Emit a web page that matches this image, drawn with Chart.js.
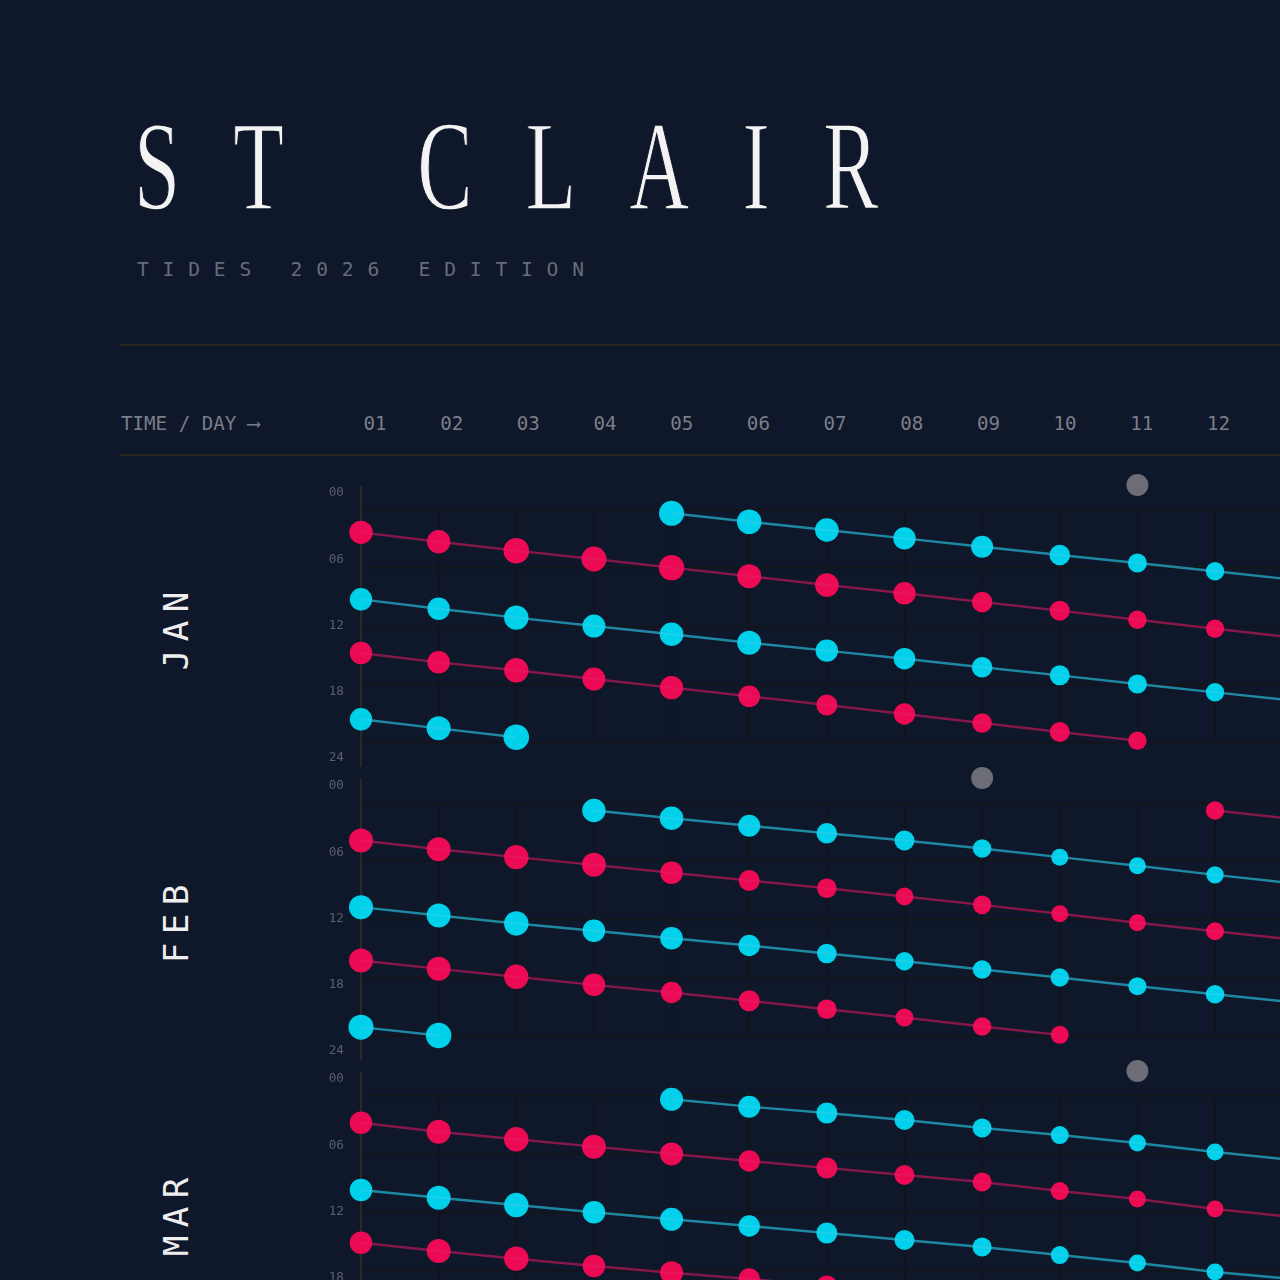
<!DOCTYPE html>
<html>
<head>
<meta charset="utf-8">
<script src="https://cdn.jsdelivr.net/npm/chart.js@4.4.1/dist/chart.umd.min.js"></script>
<style>
  html, body { margin: 0; padding: 0; background: #0f172a; }
  body { width: 1280px; height: 1280px; overflow: hidden; position: relative; }
  .abs { position: absolute; white-space: pre; margin: 0; }
  .rule { position: absolute; left: 120px; width: 1160px; height: 2px; background: #2a2723; }
  canvas { position: absolute; left: 0; }
</style>
</head>
<body>
<div id="title" class="abs">ST CLAIR</div>
<div id="subtitle" class="abs">TIDES 2026 EDITION</div>
<div class="rule" style="top:344px"></div>
<div id="axisTitle" class="abs">TIME / DAY ⟶</div>
<div class="rule" style="top:454px"></div>
<script>
// ---------------- DATA ----------------
const DAY_LABELS = ['01','02','03','04','05','06','07','08','09','10','11','12'];
const DAYS = [1,2,3,4,5,6,7,8,9,10,11,12,13];
const MONTHS = ['JAN','FEB','MAR'];
const HOUR_TICKS = [0,6,12,18,24];
const MOON_DAY = [11, 9, 11];           // last-quarter moon marker per month

// times (hours) of each tide chain, one value per day (null = no tide that day); R = dot radius
const JAN_HIGH_A_H = [null,null,null,null,0.34,1.21,2.06,2.92,3.78,4.64,5.46,6.31,7.17];
const JAN_HIGH_A_R = [null,null,null,null,12.5,12.3,11.8,11.2,11.0,10.3,9.5,9.2,8.8];
const JAN_LOW_A_H  = [2.30,3.27,4.19,5.05,5.94,6.83,7.73,8.58,9.48,10.37,11.30,12.23,13.13];
const JAN_LOW_A_R  = [11.7,11.7,12.8,12.5,12.7,12.0,11.8,11.2,10.3,10.0,9.3,9.2,8.8];
const JAN_HIGH_B_H = [9.20,10.17,11.09,11.95,12.80,13.67,14.49,15.32,16.20,17.03,17.92,18.78,19.62];
const JAN_HIGH_B_R = [11.2,11.2,12.2,11.5,11.8,12.0,11.2,10.8,10.3,10.0,9.5,9.2,8.8];
const JAN_LOW_B_H  = [14.73,15.69,16.51,17.41,18.30,19.19,20.09,21.01,21.94,22.87,23.76,null,null];
const JAN_LOW_B_R  = [11.2,11.3,12.2,11.5,11.7,10.8,10.5,10.7,9.8,10.0,9.2,null,null];
const JAN_HIGH_C_H = [21.56,22.49,23.41,null,null,null,null,null,null,null,null,null,null];
const JAN_HIGH_C_R = [11.2,12.0,12.8,null,null,null,null,null,null,null,null,null,null];

const FEB_HIGH_A_H = [null,null,null,0.77,1.57,2.35,3.11,3.86,4.69,5.58,6.47,7.40,8.26];
const FEB_HIGH_A_R = [null,null,null,11.7,11.8,11.0,10.3,10.0,9.3,8.5,8.5,8.7,8.8];
const FEB_LOW_A_H  = [3.86,4.76,5.58,6.37,7.19,7.98,8.78,9.63,10.49,11.41,12.34,13.21,14.06];
const FEB_LOW_A_R  = [12.0,12.0,12.2,12.0,11.3,10.5,9.8,9.0,9.3,8.5,8.5,9.0,9.2];
const FEB_HIGH_B_H = [10.73,11.59,12.41,13.16,13.93,14.68,15.50,16.30,17.15,17.98,18.87,19.70,20.52];
const FEB_HIGH_B_R = [12.0,12.0,12.2,11.3,11.3,10.7,9.8,9.2,9.3,9.2,9.0,9.3,9.5];
const FEB_LOW_B_H  = [16.22,17.08,17.90,18.73,19.52,20.37,21.24,22.10,23.02,23.88,null,null,null];
const FEB_LOW_B_R  = [12.0,12.0,12.2,11.3,10.7,10.5,9.8,9.0,9.3,9.0,null,null,null];
const FEB_HIGH_C_H = [23.09,23.95,null,null,null,null,null,null,null,null,null,null,null];
const FEB_HIGH_C_R = [12.5,12.7,null,null,null,null,null,null,null,null,null,null,null];
const FEB_LOW_C_H  = [null,null,null,null,null,null,null,null,null,null,null,0.77,1.63];
const FEB_LOW_C_R  = [null,null,null,null,null,null,null,null,null,null,null,9.2,9.5];

const MAR_HIGH_A_H = [null,null,null,null,0.34,1.10,1.75,2.47,3.30,4.02,4.84,5.77,6.59];
const MAR_HIGH_A_R = [null,null,null,null,11.5,11.0,10.5,10.0,9.5,9.0,8.5,8.5,8.5];
const MAR_LOW_A_H  = [2.75,3.68,4.46,5.22,5.97,6.70,7.42,8.14,8.86,9.79,10.61,11.64,12.46];
const MAR_LOW_A_R  = [11.3,12.0,12.2,12.0,11.5,10.7,10.5,10.0,9.5,9.0,8.5,8.5,8.5];
const MAR_HIGH_B_H = [9.68,10.48,11.23,11.98,12.70,13.39,14.11,14.83,15.55,16.38,17.20,18.13,18.85];
const MAR_HIGH_B_R = [11.3,12.0,12.2,11.3,11.5,10.7,10.5,10.0,9.5,9.0,8.5,8.5,8.5];
const MAR_LOW_B_H  = [15.11,15.97,16.76,17.51,18.20,18.85,19.57,null,null,null,null,null,null];
const MAR_LOW_B_R  = [11.3,12.0,12.2,11.3,11.5,10.7,10.5,null,null,null,null,null,null];

// ---------------- STYLE / LAYOUT ----------------
const MONO = '"DejaVu Sans Mono", monospace';
const SERIF = '"Liberation Serif", "Times New Roman", serif';
const BG = '#0f172a';
const HIGH = { dot: '#00d1ea', line: 'rgba(40,205,235,0.62)' };
const LOW  = { dot: '#ec0a54', line: 'rgba(230,25,100,0.55)' };
const MOON_COL = '#6d6d77';
const GRID_COL = '#131416';
const AXIS_COL = '#2c2924';
const TICK_COL = '#5b606c';

const AXIS_X = 361, DAY_PX = 77.64;
const GRID_TOP0 = 510, PANEL_STEP = 293, GRID_H = 233, PAD = 42;
const CANVAS_W = 1410;
const LAB_OFF_TOP = 17, LAB_OFF_BOT = 15;
const MOON_OFF_PX = 25, MOON_R = 11;

const PANELS = [
  { month: MONTHS[0], moon: MOON_DAY[0], series: [
    ['high', JAN_HIGH_A_H, JAN_HIGH_A_R], ['low', JAN_LOW_A_H, JAN_LOW_A_R],
    ['high', JAN_HIGH_B_H, JAN_HIGH_B_R], ['low', JAN_LOW_B_H, JAN_LOW_B_R],
    ['high', JAN_HIGH_C_H, JAN_HIGH_C_R] ] },
  { month: MONTHS[1], moon: MOON_DAY[1], series: [
    ['high', FEB_HIGH_A_H, FEB_HIGH_A_R], ['low', FEB_LOW_A_H, FEB_LOW_A_R],
    ['high', FEB_HIGH_B_H, FEB_HIGH_B_R], ['low', FEB_LOW_B_H, FEB_LOW_B_R],
    ['high', FEB_HIGH_C_H, FEB_HIGH_C_R], ['low', FEB_LOW_C_H, FEB_LOW_C_R] ] },
  { month: MONTHS[2], moon: MOON_DAY[2], series: [
    ['high', MAR_HIGH_A_H, MAR_HIGH_A_R], ['low', MAR_LOW_A_H, MAR_LOW_A_R],
    ['high', MAR_HIGH_B_H, MAR_HIGH_B_R], ['low', MAR_LOW_B_H, MAR_LOW_B_R] ] }
];

// ---------------- TEXT ----------------
const mctx = document.createElement('canvas').getContext('2d');
function fm(family, size, ch) {
  mctx.font = size + 'px ' + family;
  const m = mctx.measureText(ch || 'H');
  return { asc: m.fontBoundingBoxAscent, desc: m.fontBoundingBoxDescent, cap: m.actualBoundingBoxAscent,
           w: m.width, l: m.actualBoundingBoxLeft, r: m.actualBoundingBoxRight };
}
function topFor(family, size, baseline) {
  const m = fm(family, size);
  return baseline - ((size - (m.asc + m.desc)) / 2 + m.asc);
}
function sizeForCap(family, cap) { return cap / fm(family, 100).cap * 100; }

// title
(function () {
  const el = document.getElementById('title');
  const size = sizeForCap(SERIF, 83);
  const sx = 0.65;
  const ext = fm(SERIF, size, 'ST CLAIR');
  const s = fm(SERIF, size, 'S');
  const extent = ext.l + ext.r;
  const ls = (743 / sx - extent) / 7 - 2.3;
  Object.assign(el.style, { fontFamily: SERIF, fontSize: size + 'px', lineHeight: size + 'px',
    letterSpacing: ls + 'px', wordSpacing: '12.3px', color: '#f3f3f3', transform: 'scaleX(' + sx + ')', transformOrigin: '0 0',
    webkitTextStroke: '1.4px ' + BG, paintOrder: 'normal',
    left: (139 + s.l * sx) + 'px', top: topFor(SERIF, size, 210) + 'px' });
})();

// subtitle
(function () {
  const el = document.getElementById('subtitle');
  const size = sizeForCap(MONO, 14.3);
  const adv = fm(MONO, size).w;
  Object.assign(el.style, { fontFamily: MONO, fontSize: size + 'px', lineHeight: size + 'px',
    letterSpacing: (25.6 - adv) + 'px', color: '#686c78', left: '137px', top: topFor(MONO, size, 276) + 'px' });
})();

// header
const HEAD_CAP = 14, HEAD_BASE = 430.5;
const headSize = sizeForCap(MONO, HEAD_CAP);
(function () {
  const el = document.getElementById('axisTitle');
  Object.assign(el.style, { fontFamily: MONO, fontSize: headSize + 'px', lineHeight: headSize + 'px',
    color: '#7a7e89', left: '121px', top: topFor(MONO, headSize, HEAD_BASE) + 'px' });
  DAY_LABELS.forEach((t, i) => {
    const d = document.createElement('div');
    d.className = 'abs';
    d.textContent = t;
    Object.assign(d.style, { fontFamily: MONO, fontSize: headSize + 'px', lineHeight: headSize + 'px',
      color: '#7a7e89', left: (375 + i * 76.68) + 'px', transform: 'translateX(-50%)',
      top: topFor(MONO, headSize, HEAD_BASE) + 'px' });
    document.body.appendChild(d);
  });
})();

// month labels
const monthSize = sizeForCap(MONO, 25);
const monthAdv = fm(MONO, monthSize).w;
const monthLS = 29 - monthAdv;
PANELS.forEach((p, k) => {
  const gridTop = GRID_TOP0 + k * PANEL_STEP;
  const d = document.createElement('div');
  d.className = 'abs';
  d.textContent = p.month;
  Object.assign(d.style, { fontFamily: MONO, fontSize: monthSize + 'px', lineHeight: monthSize + 'px',
    color: '#eeeeee', letterSpacing: monthLS + 'px', paddingLeft: monthLS + 'px',
    left: '176px', top: (gridTop + GRID_H / 2 + 4) + 'px',
    transform: 'translate(-50%,-50%) rotate(-90deg)' });
  document.body.appendChild(d);
});

// ---------------- CHARTS ----------------
const tickSize = sizeForCap(MONO, 9.3);
const axisLinePlugin = {
  id: 'axisLine',
  beforeDatasetsDraw(chart) {
    const { ctx, chartArea: { left, top, bottom } } = chart;
    ctx.save();
    ctx.strokeStyle = AXIS_COL; ctx.lineWidth = 2;
    ctx.beginPath(); ctx.moveTo(left, top - 24); ctx.lineTo(left, bottom + 24); ctx.stroke();
    ctx.restore();
  }
};

const labPx = (GRID_H + LAB_OFF_TOP + LAB_OFF_BOT) / 24;
const labMin = LAB_OFF_TOP / labPx;
const labMax = labMin + GRID_H / labPx;
const xMax = 1 + (CANVAS_W - AXIS_X) / DAY_PX;
const moonY = -MOON_OFF_PX / (GRID_H / 24);

PANELS.forEach((p, k) => {
  const gridTop = GRID_TOP0 + k * PANEL_STEP;
  const cv = document.createElement('canvas');
  cv.width = CANVAS_W; cv.height = GRID_H + 2 * PAD;
  cv.style.width = CANVAS_W + 'px'; cv.style.height = (GRID_H + 2 * PAD) + 'px';
  cv.style.top = (gridTop - PAD) + 'px';
  document.body.appendChild(cv);

  const datasets = [];
  p.series.forEach(([kind, hours, radii]) => {
    const pts = [], rs = [];
    DAYS.forEach((d, i) => { if (hours[i] !== null) { pts.push({ x: d, y: hours[i] }); rs.push(radii[i]); } });
    const col = kind === 'high' ? HIGH : LOW;
    datasets.push({ type: 'line', data: pts, xAxisID: 'x', yAxisID: 'y', borderColor: col.line, borderWidth: 2.4,
      pointRadius: 0, tension: 0, fill: false, clip: false, order: 0 });
    datasets.push({ type: 'scatter', data: pts, xAxisID: 'x', yAxisID: 'y', pointRadius: rs,
      pointBackgroundColor: col.dot, backgroundColor: col.dot, borderWidth: 0, pointBorderWidth: 0, clip: false, order: 1 });
  });
  // moon marker sits above the grid; a transparent border widens the point's in-area margin so it is drawn
  datasets.push({ type: 'scatter', data: [{ x: p.moon, y: moonY }], xAxisID: 'x', yAxisID: 'y', pointRadius: MOON_R,
    pointBackgroundColor: MOON_COL, backgroundColor: MOON_COL, pointBorderWidth: 30, pointBorderColor: 'rgba(0,0,0,0)',
    clip: false, order: 1 });

  new Chart(cv, {
    type: 'scatter',
    data: { datasets },
    options: {
      responsive: false, animation: false, devicePixelRatio: 1, events: [],
      layout: { autoPadding: false, padding: { top: PAD, bottom: PAD, left: 0, right: 0 } },
      plugins: { legend: { display: false }, tooltip: { enabled: false } },
      scales: {
        x: { type: 'linear', axis: 'x', position: 'bottom', min: 1, max: xMax,
             ticks: { display: false, stepSize: 1 }, grid: { color: GRID_COL, lineWidth: 1.6, drawTicks: false },
             border: { display: false }, afterFit: s => { s.height = 0; } },
        y: { type: 'linear', axis: 'y', position: 'left', weight: 0, reverse: true, min: 0, max: 24,
             ticks: { display: false, stepSize: 6 }, grid: { color: GRID_COL, lineWidth: 1.6, drawTicks: false },
             border: { display: false }, afterFit: s => { s.width = 0; } },
        yLab: { type: 'linear', axis: 'y', position: 'left', weight: 1, reverse: true, min: labMin, max: labMax,
             afterBuildTicks: s => { s.ticks = HOUR_TICKS.map(v => ({ value: v })); },
             ticks: { autoSkip: false, padding: 17, color: TICK_COL, font: { family: MONO, size: tickSize },
                      callback: v => String(v).padStart(2, '0') },
             grid: { display: false, drawTicks: false }, border: { display: false },
             afterFit: s => { s.width = AXIS_X; } }
      }
    },
    plugins: [axisLinePlugin]
  });
});
</script>
</body>
</html>
